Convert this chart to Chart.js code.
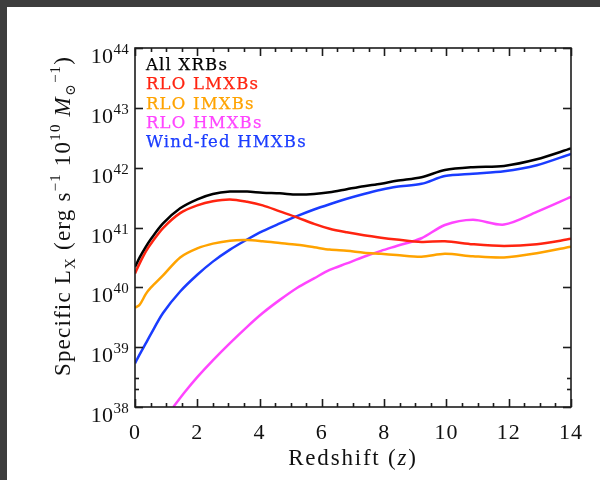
<!DOCTYPE html>
<html>
<head>
<meta charset="utf-8">
<script src="https://cdn.jsdelivr.net/npm/chart.js@4.4.1/dist/chart.umd.min.js"></script>
<style>
  html, body { margin: 0; padding: 0; width: 600px; height: 480px; overflow: hidden; background: #3d3d3d; }
  #sheet { position: absolute; left: 7px; top: 7px; width: 593px; height: 473px; background: #fff; }
  #chart { position: absolute; left: 0; top: 0; }
</style>
</head>
<body>
<div id="sheet"></div>
<canvas id="chart" width="600" height="480"></canvas>
<script>
// redshift grid shared by most series
const redshift = [0, 0.15, 0.35, 0.5, 0.9, 1.45, 2, 2.5, 3.05, 3.6, 4.1, 4.65, 5.2,
  5.75, 6.25, 6.8, 7.35, 7.9, 8.4, 9.2, 9.95, 10.85, 11.85, 12.9, 14];

const allXrbs = [2.19e40, 3.16e40, 4.79e40, 6.31e40, 1.17e41, 2.09e41, 2.95e41, 3.63e41,
  3.98e41, 3.98e41, 3.80e41, 3.72e41, 3.55e41, 3.63e41, 3.89e41, 4.37e41, 4.90e41,
  5.37e41, 6.03e41, 6.92e41, 9.12e41, 1.02e42, 1.07e42, 1.38e42, 2.09e42];

const rloLmxbs = [1.70e40, 2.51e40, 3.98e40, 5.25e40, 9.77e40, 1.74e41, 2.34e41, 2.75e41,
  2.95e41, 2.69e41, 2.34e41, 1.86e41, 1.48e41, 1.15e41, 9.55e40, 8.32e40, 7.41e40,
  6.76e40, 6.31e40, 5.75e40, 5.89e40, 5.25e40, 4.90e40, 5.25e40, 6.46e40];

const rloImxbs = [4.57e39, 5.13e39, 7.76e39, 9.77e39, 1.58e40, 3.16e40, 4.47e40, 5.37e40,
  6.03e40, 6.17e40, 5.89e40, 5.50e40, 5.13e40, 4.68e40, 4.27e40, 4.07e40, 3.80e40,
  3.63e40, 3.47e40, 3.24e40, 3.63e40, 3.31e40, 3.16e40, 3.72e40, 4.79e40];

const windHmxbs = [5.37e38, 7.59e38, 1.17e39, 1.62e39, 3.72e39, 8.51e39, 1.62e40, 2.69e40,
  4.27e40, 6.31e40, 8.71e40, 1.17e41, 1.55e41, 2.00e41, 2.45e41, 3.02e41, 3.63e41,
  4.27e41, 4.79e41, 5.37e41, 7.24e41, 7.94e41, 8.71e41, 1.10e42, 1.70e42];

// RLO HMXBs only enter the plotted range above z ~ 1.2
const hmxbRedshift = [1.23, 1.6, 2, 2.5, 3.05, 3.6, 4.1, 4.65, 5.2, 5.75, 6.25, 6.8, 7.35,
  7.9, 8.4, 9.2, 9.95, 10.85, 11.85, 12.9, 14];
const rloHmxbs = [1.0e38, 1.78e38, 3.16e38, 6.03e38, 1.17e39, 2.19e39, 3.72e39, 6.17e39,
  9.77e39, 1.41e40, 1.95e40, 2.51e40, 3.24e40, 4.07e40, 4.90e40, 6.61e40, 1.10e41,
  1.35e41, 1.12e41, 1.82e41, 3.24e41];

const xTickValues = [0, 2, 4, 6, 8, 10, 12, 14];
const yTickExponents = [38, 39, 40, 41, 42, 43, 44];
const yMinorTicks = [2e38, 3e38];

const SERIF = '"Liberation Serif", "DejaVu Serif", serif';
const LEGEND_FONT = '"DejaVu Serif", serif';

const pts = (xs, ys) => xs.map((x, i) => ({ x, y: ys[i] }));

function series(label, xs, ys, color) {
  return {
    label,
    data: pts(xs, ys),
    borderColor: color,
    backgroundColor: color,
    borderWidth: 2.5,
    pointRadius: 0,
    tension: 0.3,
  };
}

// draw a run of text pieces: [text, size, dy, italic]
function drawRich(ctx, parts, x, y, align, spacing) {
  ctx.letterSpacing = (spacing || 0) + "px";
  const fontOf = (p) => (p[3] ? "italic " : "") + p[1] + "px " + SERIF;
  let w = 0;
  for (const p of parts) {
    ctx.font = fontOf(p);
    w += ctx.measureText(p[0]).width;
  }
  let cx = align === "right" ? x - w : align === "center" ? x - w / 2 : x;
  ctx.textAlign = "left";
  for (const p of parts) {
    ctx.font = fontOf(p);
    ctx.fillText(p[0], cx, y + p[2]);
    cx += ctx.measureText(p[0]).width;
  }
  ctx.letterSpacing = "0px";
}

const framePlugin = {
  id: "frame",
  afterDatasetsDraw(chart) {
    const { ctx, chartArea: a, scales } = chart;
    const x = scales.x, y = scales.y;
    ctx.save();
    ctx.strokeStyle = "#1c1c1c";
    ctx.lineWidth = 1.6;
    ctx.strokeRect(a.left, a.top, a.right - a.left, a.bottom - a.top);
    const seg = (x1, y1, x2, y2) => {
      ctx.beginPath();
      ctx.moveTo(x1, y1);
      ctx.lineTo(x2, y2);
      ctx.stroke();
    };
    // x ticks, major every 2, minor every 0.5
    for (let v = 0; v <= 14; v += 0.5) {
      const px = Math.round(x.getPixelForValue(v)) + 0.5;
      const len = v % 2 === 0 ? 8 : 4;
      seg(px, a.bottom, px, a.bottom - len);
      seg(px, a.top, px, a.top + len);
    }
    for (const e of yTickExponents) {
      const py = Math.round(y.getPixelForValue(Math.pow(10, e))) + 0.5;
      seg(a.left, py, a.left + 8, py);
      seg(a.right, py, a.right - 8, py);
    }
    for (const v of yMinorTicks) {
      const py = Math.round(y.getPixelForValue(v)) + 0.5;
      seg(a.left, py, a.left + 4, py);
      seg(a.right, py, a.right - 4, py);
    }

    // tick labels
    ctx.fillStyle = "#111";
    ctx.textBaseline = "alphabetic";
    for (const v of xTickValues) {
      drawRich(ctx, [[String(v), 22, 0]], x.getPixelForValue(v), 439, "center", 1);
    }
    for (const e of yTickExponents) {
      const py = y.getPixelForValue(Math.pow(10, e));
      drawRich(ctx, [["10", 22, 15], [String(e), 15, 6]], a.left - 6, py, "right", 0.3);
    }

    // axis titles
    drawRich(ctx, [["Redshift (", 23, 0], ["z", 23, 0, true], [")", 23, 0]],
      (a.left + a.right) / 2, 465, "center", 1.8);
    ctx.save();
    ctx.translate(70, 216);
    ctx.rotate(-Math.PI / 2);
    drawRich(ctx, [
      ["Specific L", 23, 0], ["X", 15, 5], [" (erg s", 23, 0], ["\u22121", 15, -10],
      [" 10", 23, 0], ["10", 15, -10], [" ", 23, 0], ["M", 23, 0, true], ["\u2299", 14, 5],
      ["\u22121", 15, -10], [")", 23, 0],
    ], 0, 0, "center", 1.2);
    ctx.restore();

    // legend in the upper-left corner of the plot
    ctx.font = "16.5px " + LEGEND_FONT;
    ctx.letterSpacing = "1.2px";
    ctx.textAlign = "left";
    ctx.lineWidth = 0.25;
    chart.data.datasets.forEach((ds, i) => {
      ctx.fillStyle = ds.borderColor;
      ctx.strokeStyle = ds.borderColor;
      ctx.fillText(ds.label, a.left + 11, 70 + i * 19.3);
      ctx.strokeText(ds.label, a.left + 11, 70 + i * 19.3);
    });
    ctx.restore();
  },
};

new Chart(document.getElementById("chart"), {
  type: "line",
  data: {
    datasets: [
      series("All XRBs", redshift, allXrbs, "#000000"),
      series("RLO LMXBs", redshift, rloLmxbs, "#ff2410"),
      series("RLO IMXBs", redshift, rloImxbs, "#ffa300"),
      series("RLO HMXBs", hmxbRedshift, rloHmxbs, "#ff45ff"),
      series("Wind-fed HMXBs", redshift, windHmxbs, "#1a3cff"),
    ],
  },
  options: {
    responsive: false,
    animation: false,
    layout: { padding: { left: 135, top: 48, right: 29, bottom: 73 } },
    scales: {
      x: { type: "linear", min: 0, max: 14, display: false },
      y: { type: "logarithmic", min: 1e38, max: 1e44, display: false },
    },
    plugins: { legend: { display: false }, tooltip: { enabled: false } },
  },
  plugins: [framePlugin],
});
</script>
</body>
</html>
